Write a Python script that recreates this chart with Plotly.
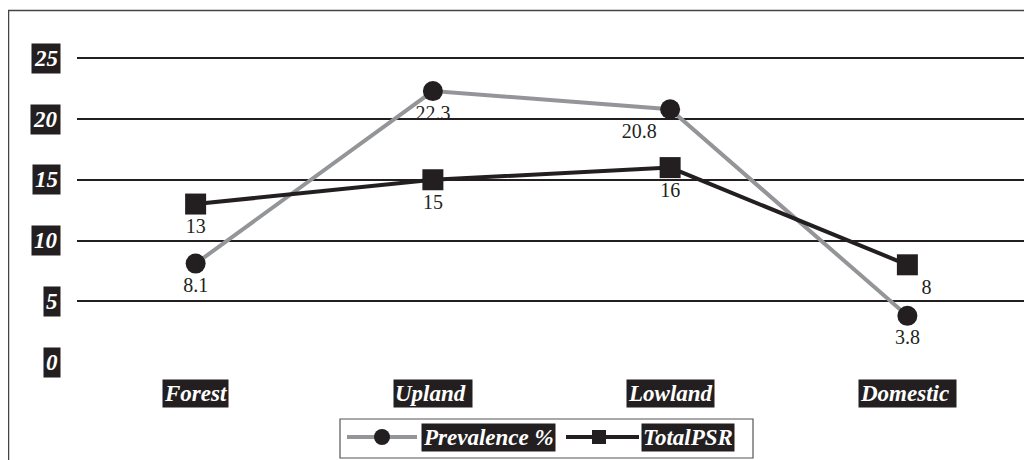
import plotly.graph_objects as go

categories = ["Forest", "Upland", "Lowland", "Domestic"]
category_labels = ["Forest", "Upland\u00a0", "Lowland", "Domestic\u00a0"]
prevalence = [8.1, 22.3, 20.8, 3.8]
total_psr = [13, 15, 16, 8]
y_ticks = [0, 5, 10, 15, 20, 25]
series_names = ["Prevalence\u00a0%", "TotalPSR"]

BLACK = "#231f20"
GRAY = "#939598"
FONT = "Liberation Serif"
NUMFONT = "Liberation Serif"

OFF = 8  # page body margin
W, H = 1032, 460
ML, MR, MT, MB = 69, 14, 22, 88
PW, PH = W - ML - MR, H - MT - MB


def px(x):
    return (x - OFF - ML) / PW


def py(y):
    return (H - MB - (y - OFF)) / PH


fig = go.Figure()
fig.add_trace(go.Scatter(
    x=categories, y=prevalence, mode="lines+markers+text",
    name=series_names[0],
    line=dict(color=GRAY, width=4),
    marker=dict(symbol="circle", size=20, color=BLACK),
    text=[str(v) for v in prevalence],
    textposition=["bottom center", "bottom center", "bottom left", "bottom center"],
    textfont=dict(family=NUMFONT, size=20, color=BLACK),
    showlegend=False, cliponaxis=False,
))
fig.add_trace(go.Scatter(
    x=categories, y=total_psr, mode="lines+markers+text",
    name=series_names[1],
    line=dict(color=BLACK, width=4),
    marker=dict(symbol="square", size=21, color=BLACK),
    text=[str(v) for v in total_psr],
    textposition=["bottom center", "bottom center", "bottom center", "bottom right"],
    textfont=dict(family=NUMFONT, size=20, color=BLACK),
    showlegend=False, cliponaxis=False,
))

lab_font = dict(family=FONT, size=23, color="white", weight="bold", style="italic")
annotations = []
for v in y_ticks:
    annotations.append(dict(
        x=0, xref="paper", y=v, yref="y", xanchor="right", yanchor="middle",
        xshift=-16, text=str(v), showarrow=False, bgcolor=BLACK,
        font=lab_font, borderpad=2,
    ))
for c, lab in zip(categories, category_labels):
    annotations.append(dict(
        x=c, xref="x", y=py(393), yref="paper", xanchor="center", yanchor="middle",
        text=lab, showarrow=False, bgcolor=BLACK, font=lab_font, borderpad=1,
    ))
# legend texts
annotations.append(dict(
    x=px(421), xref="paper", y=py(437), yref="paper", xanchor="left", yanchor="middle",
    text=series_names[0], showarrow=False, bgcolor=BLACK, font=lab_font, borderpad=1,
))
annotations.append(dict(
    x=px(641), xref="paper", y=py(437), yref="paper", xanchor="left", yanchor="middle",
    text=series_names[1], showarrow=False, bgcolor=BLACK, font=lab_font, borderpad=1,
))

shapes = [
    # outer frame (top and left)
    dict(type="line", xref="paper", yref="paper", x0=px(8), x1=px(1045), y0=py(10.5), y1=py(10.5),
         line=dict(color="#444", width=1.5)),
    dict(type="line", xref="paper", yref="paper", x0=px(8.5), x1=px(8.5), y0=py(10), y1=py(470),
         line=dict(color="#444", width=1.5)),
    # legend box
    dict(type="rect", xref="paper", yref="paper", x0=px(340), x1=px(753), y0=py(419), y1=py(458),
         line=dict(color="#555", width=1.2), fillcolor="rgba(0,0,0,0)"),
    # legend glyphs
    dict(type="line", xref="paper", yref="paper", x0=px(347), x1=px(417), y0=py(437), y1=py(437),
         line=dict(color=GRAY, width=4)),
    dict(type="circle", xref="paper", yref="paper", x0=px(374), x1=px(390), y0=py(429), y1=py(445),
         line=dict(color=BLACK, width=0), fillcolor=BLACK),
    dict(type="line", xref="paper", yref="paper", x0=px(566), x1=px(639), y0=py(437), y1=py(437),
         line=dict(color=BLACK, width=4)),
    dict(type="rect", xref="paper", yref="paper", x0=px(592), x1=px(606), y0=py(430), y1=py(444),
         line=dict(color=BLACK, width=0), fillcolor=BLACK),
]

y_lo = -(380 - 362) / 12.15
y_hi = (362 - 30) / 12.15

fig.update_layout(
    width=W, height=H,
    margin=dict(l=ML, r=MR, t=MT, b=MB),
    paper_bgcolor="white", plot_bgcolor="white",
    xaxis=dict(range=[-0.5, 3.5], showticklabels=False, showgrid=False, zeroline=False,
               showline=False, ticks=""),
    yaxis=dict(range=[y_lo, y_hi], tickvals=y_ticks[1:], showticklabels=False,
               showgrid=True, gridcolor=BLACK, gridwidth=1.5, zeroline=False,
               showline=False, ticks=""),
    annotations=annotations, shapes=shapes, showlegend=False,
)

fig.write_html("out.html")
